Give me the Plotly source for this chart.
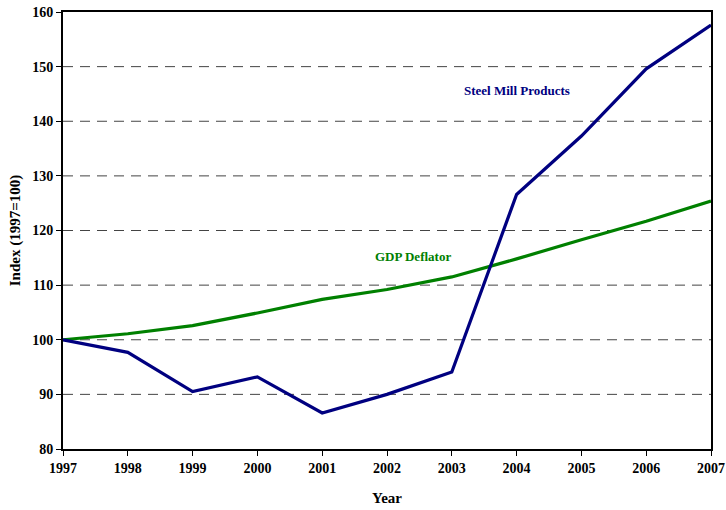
import plotly.graph_objects as go

years = [1997, 1998, 1999, 2000, 2001, 2002, 2003, 2004, 2005, 2006, 2007]
steel = [100, 97.7, 90.5, 93.2, 86.6, 90.0, 94.1, 126.6, 137.3, 149.6, 157.6]
gdp = [100, 101.1, 102.6, 104.9, 107.4, 109.2, 111.5, 114.8, 118.3, 121.7, 125.4]

FONT = "Liberation Serif, Times New Roman, serif"

fig = go.Figure()
fig.add_trace(go.Scatter(x=years, y=gdp, mode="lines", name="GDP Deflator",
                         line=dict(color="#008000", width=3.2)))
fig.add_trace(go.Scatter(x=years, y=steel, mode="lines", name="Steel Mill Products",
                         line=dict(color="#000080", width=3.2)))

# dashed gridlines
for v in range(90, 160, 10):
    fig.add_shape(type="line", xref="paper", x0=0, x1=1, yref="y", y0=v, y1=v,
                  line=dict(color="#444444", width=1, dash="10px,7px"), layer="below")

fig.add_annotation(x=2004.0, y=145.6, text="<b>Steel Mill Products</b>", showarrow=False,
                   font=dict(family=FONT, size=13, color="#000080"))
fig.add_annotation(x=2002.4, y=115.2, text="<b>GDP Deflator</b>", showarrow=False,
                   font=dict(family=FONT, size=13, color="#008000"))

fig.update_layout(
    width=726, height=510,
    margin=dict(l=63, r=15, t=12, b=61),
    paper_bgcolor="white", plot_bgcolor="white",
    showlegend=False,
    font=dict(family=FONT, size=13, color="black"),
)
fig.update_xaxes(
    range=[1997, 2007], tickmode="array", tickvals=years,
    ticktext=[f"<b>{y}</b>" for y in years],
    tickfont=dict(family=FONT, size=14),
    showgrid=False, zeroline=False, automargin=False,
    showline=True, linecolor="black", linewidth=2, mirror=True,
    ticks="outside", ticklen=5, tickcolor="black",
    title=dict(text="<b>Year</b>", font=dict(family=FONT, size=15), standoff=18),
)
fig.update_yaxes(
    range=[80, 160], tickmode="array", tickvals=list(range(80, 161, 10)),
    ticktext=[f"<b>{v}</b>" for v in range(80, 161, 10)],
    tickfont=dict(family=FONT, size=14),
    showgrid=False, zeroline=False, automargin=False,
    showline=True, linecolor="black", linewidth=2, mirror=True,
    ticks="outside", ticklen=5, tickcolor="black",
    title=dict(text="<b>Index (1997=100)</b>", font=dict(family=FONT, size=15), standoff=8),
)

# drop the default page margin so the figure sits at the window corner
fig.write_html("out.html", config={"displayModeBar": False},
               post_script="document.body.style.margin='0';")
